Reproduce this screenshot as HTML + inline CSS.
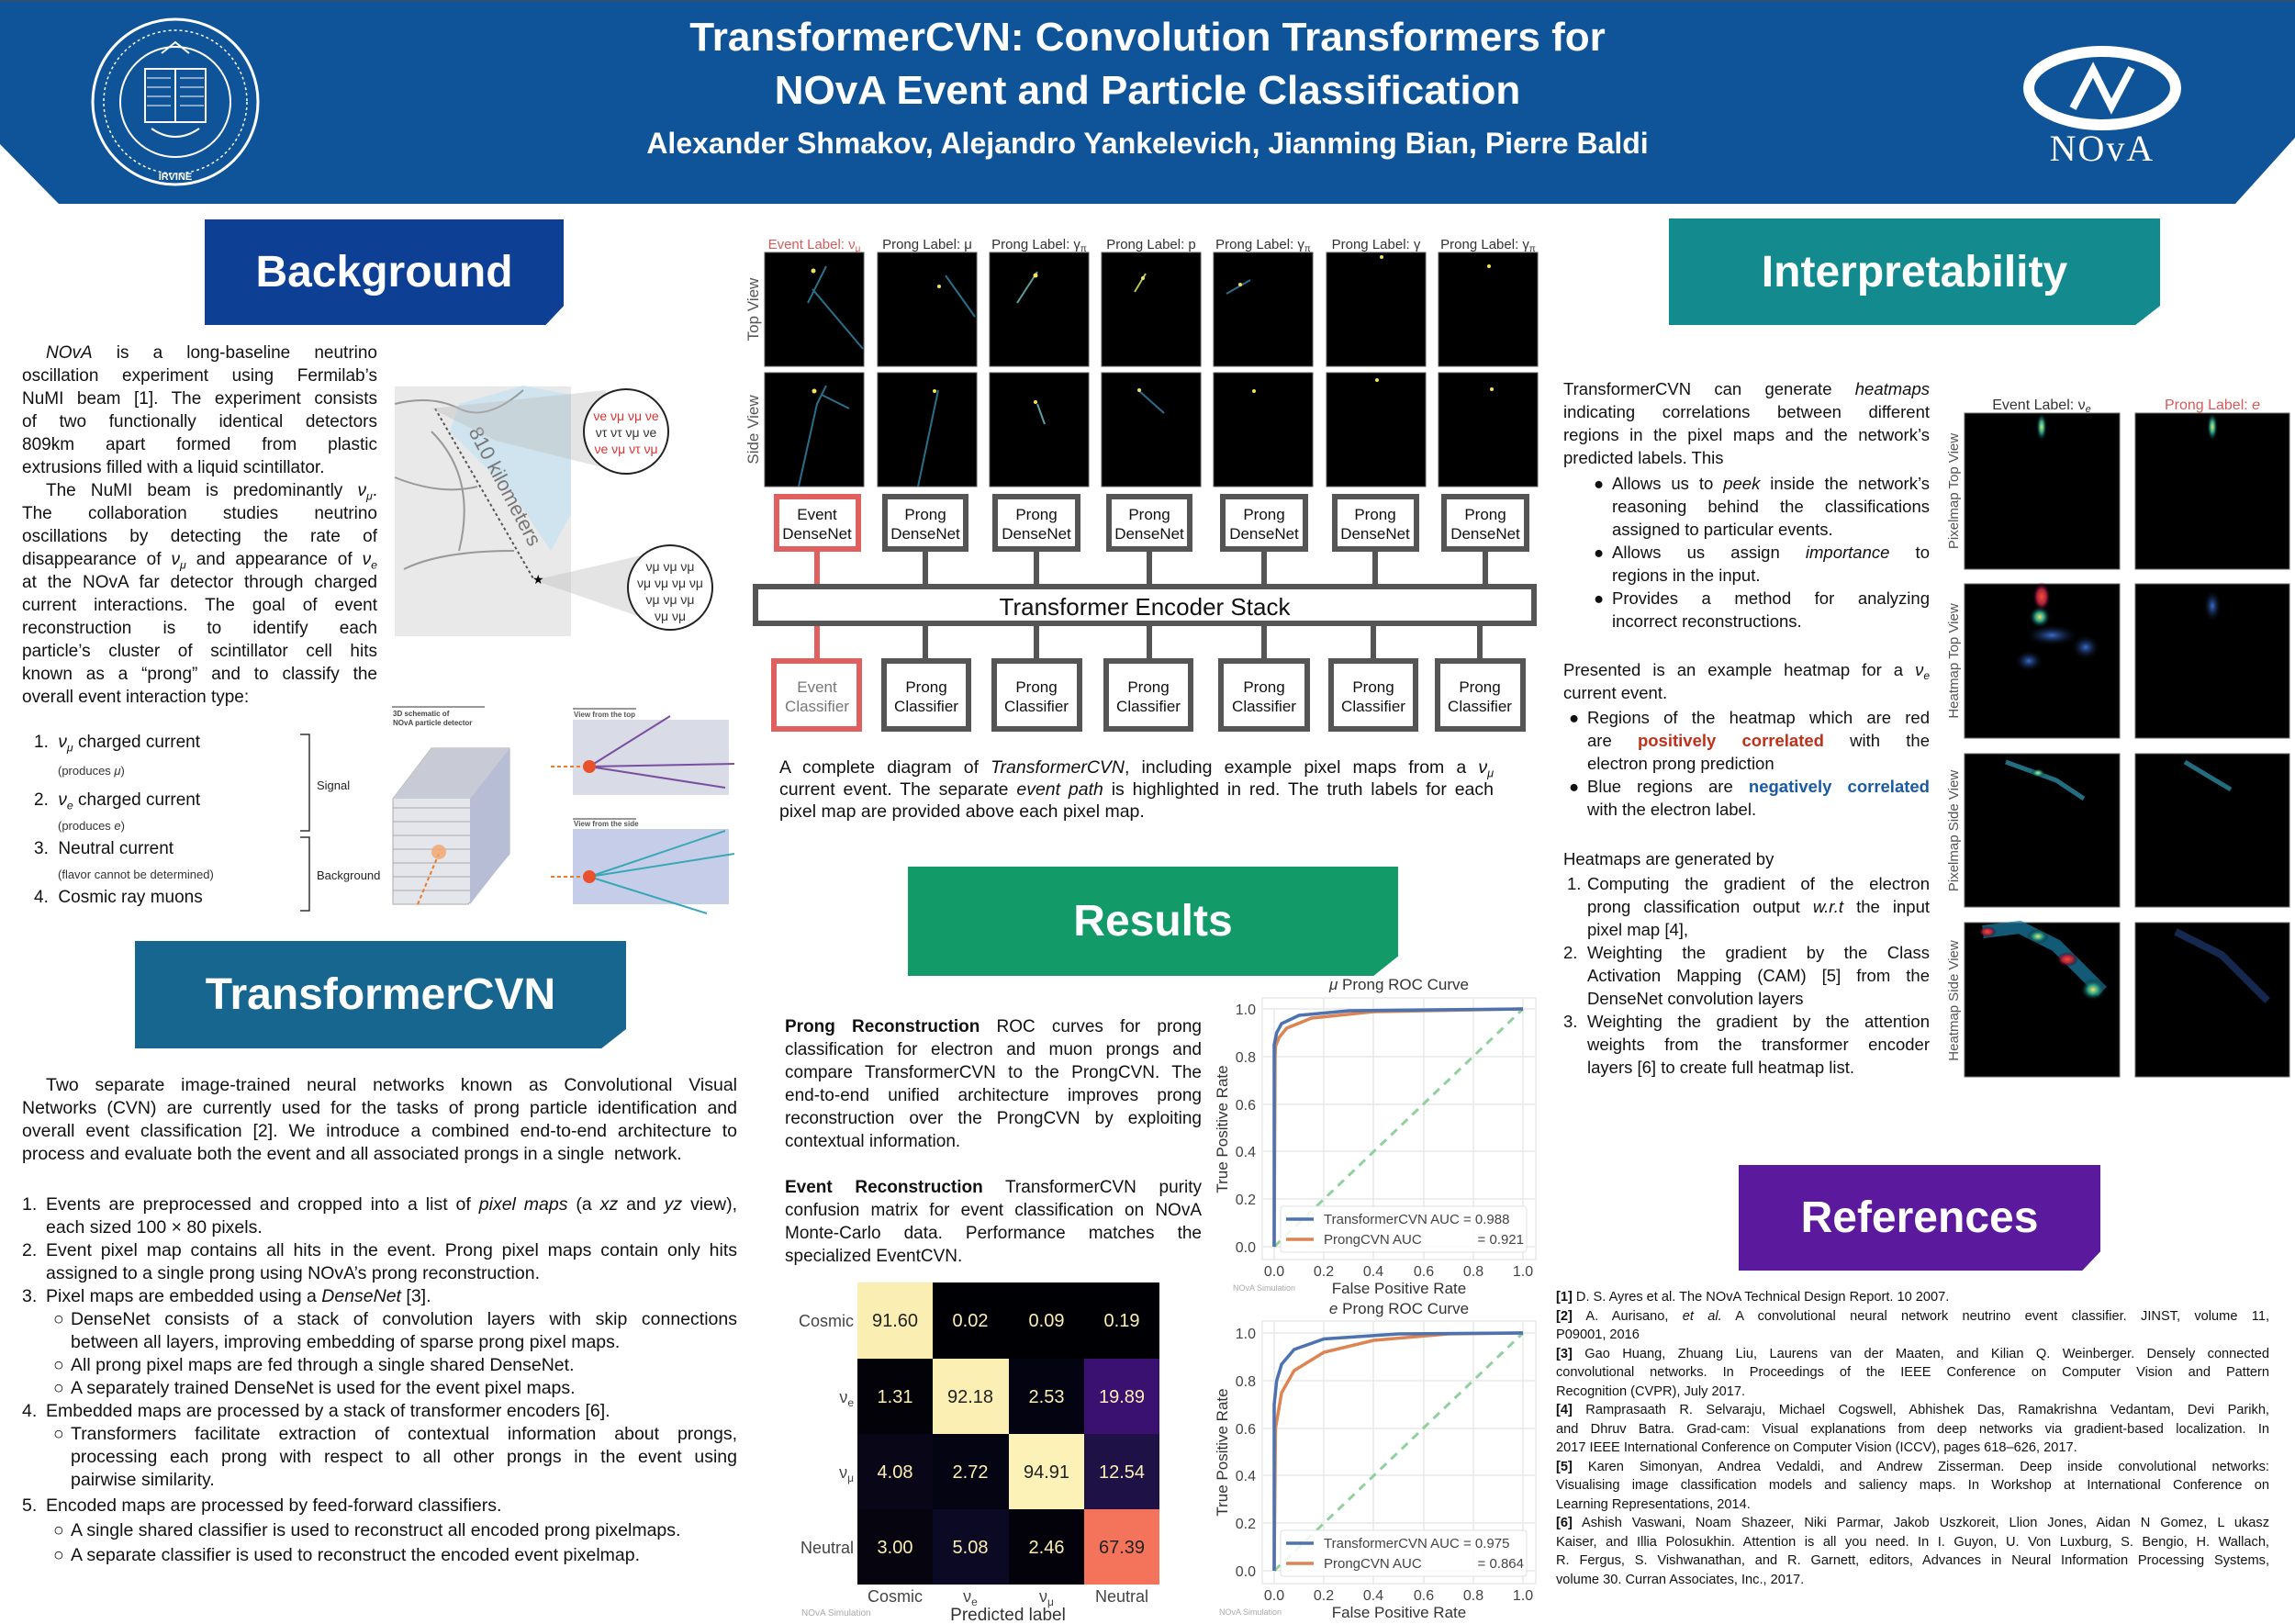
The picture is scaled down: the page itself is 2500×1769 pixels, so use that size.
<!DOCTYPE html>
<html><head><meta charset="utf-8">
<style>
*{margin:0;padding:0;box-sizing:border-box}
body{width:2500px;height:1769px;background:#fff;position:relative;overflow:hidden;font-family:"Liberation Sans","DejaVu Sans",sans-serif;color:#111}
.a{position:absolute}
.hdr{position:absolute;color:#fff;font-weight:bold;font-size:48px;display:flex;align-items:center;justify-content:center;clip-path:polygon(0 0,100% 0,100% 82%,95% 100%,0 100%)}
.blk{position:absolute;line-height:25px}
.blk div{text-align:justify;text-align-last:justify;white-space:nowrap;height:25px}
.blk div.l{text-align-last:left}
sub{font-size:0.65em;vertical-align:-0.35em;line-height:0}
i{font-style:italic}
</style></head><body>

<svg class="a" style="left:0;top:0" width="2500" height="1769" viewBox="0 0 2500 1769" font-family="Liberation Sans, DejaVu Sans, sans-serif">
<polygon points="0,0 2500,0 2500,150 2435,222 64,222 0,157" fill="#0f5499"/>
<line x1="0" y1="1" x2="2500" y2="1" stroke="#2d4f73" stroke-width="2"/>
<circle cx="191" cy="111" r="90" fill="#0f5499" stroke="#fff" stroke-width="3"/>
<circle cx="191" cy="111" r="78" fill="none" stroke="#fff" stroke-width="1.5" stroke-dasharray="3 3"/>
<circle cx="191" cy="111" r="60" fill="none" stroke="#fff" stroke-width="2"/>
<rect x="158" y="75" width="66" height="58" fill="none" stroke="#fff" stroke-width="2"/>
<line x1="191" y1="75" x2="191" y2="133" stroke="#fff" stroke-width="2"/>
<path d="M160 85h26M160 95h26M160 105h26M160 115h26M196 85h26M196 95h26M196 105h26M196 115h26" stroke="#fff" stroke-width="1"/>
<path d="M176 58l15 -12l15 12" fill="none" stroke="#fff" stroke-width="2"/>
<path d="M165 140q26 18 52 0" fill="none" stroke="#fff" stroke-width="2"/>
<text x="191" y="196" fill="#fff" font-size="11" text-anchor="middle" font-weight="bold">IRVINE</text>
<ellipse cx="2290" cy="96" rx="80" ry="40" fill="none" stroke="#fff" stroke-width="12"/>
<path d="M2258 118 L2280 76 L2300 116 L2322 74" fill="none" stroke="#fff" stroke-width="8"/>
<text x="2290" y="175" fill="#fff" font-size="40" text-anchor="middle" font-family="Liberation Serif, serif" letter-spacing="2">NOvA</text>

<rect x="430" y="421" width="192" height="272" fill="#e9e9ea"/>
<polygon points="500,440 570,420 622,430 622,560 600,600 560,540 520,500 490,470" fill="#cfe4ee"/>
<path d="M430 440 Q470 430 500 445 T570 425 M470 470 Q520 520 500 600 M430 520 Q480 540 520 530 M440 620 Q480 600 560 600" stroke="#999" fill="none" stroke-width="2"/>
<line x1="474" y1="445" x2="582" y2="632" stroke="#555" stroke-width="2" stroke-dasharray="3 3"/>
<text x="510" y="470" font-size="22" fill="#777" transform="rotate(62 510 470)">810 kilometers</text>
<polygon points="470,445 660,425 660,510 540,480" fill="#bbb" opacity="0.4"/>
<polygon points="582,632 720,600 720,680" fill="#bbb" opacity="0.4"/>
<circle cx="682" cy="470" r="46" fill="#fff" stroke="#222" stroke-width="2"/>
<text x="682" y="458" font-size="14" fill="#d33" text-anchor="middle">νe νμ νμ νe</text>
<text x="682" y="476" font-size="14" fill="#333" text-anchor="middle">ντ ντ νμ νe</text>
<text x="682" y="494" font-size="14" fill="#d33" text-anchor="middle">νe νμ ντ νμ</text>
<circle cx="730" cy="640" r="46" fill="#fff" stroke="#222" stroke-width="2"/>
<text x="730" y="622" font-size="14" fill="#333" text-anchor="middle">νμ νμ νμ</text>
<text x="730" y="640" font-size="14" fill="#333" text-anchor="middle">νμ νμ νμ νμ</text>
<text x="730" y="658" font-size="14" fill="#333" text-anchor="middle">νμ νμ νμ</text>
<text x="730" y="676" font-size="14" fill="#333" text-anchor="middle">νμ νμ</text>
<text x="580" y="636" font-size="14">★</text>

<line x1="427" y1="770" x2="528" y2="770" stroke="#999" stroke-width="2"/>
<text x="428" y="780" font-size="8" font-weight="bold" fill="#444">3D schematic of</text>
<text x="428" y="790" font-size="8" font-weight="bold" fill="#444">NOvA particle detector</text>
<polygon points="428,870 470,815 555,815 555,930 510,985 428,985" fill="#e4e6ec" stroke="#aaa"/>
<polygon points="428,870 470,815 555,815 512,870" fill="#c8cbd6"/>
<polygon points="512,870 555,815 555,930 512,985" fill="#b7bdd4"/>
<path d="M428 880h84M428 895h84M428 910h84M428 925h84M428 940h84M428 955h84M428 970h84" stroke="#aaa" stroke-width="1"/>
<line x1="455" y1="985" x2="478" y2="930" stroke="#e87c2c" stroke-width="2" stroke-dasharray="4 3"/>
<circle cx="478" cy="928" r="8" fill="#f3a46a" opacity="0.8"/>
<rect x="624" y="784" width="170" height="82" fill="#d9dbe6"/>
<rect x="624" y="903" width="170" height="82" fill="#c5cde8"/>
<line x1="624" y1="772" x2="693" y2="772" stroke="#999" stroke-width="2"/>
<line x1="624" y1="892" x2="693" y2="892" stroke="#999" stroke-width="2"/>
<text x="625" y="781" font-size="8" font-weight="bold" fill="#555">View from the top</text>
<text x="625" y="900" font-size="8" font-weight="bold" fill="#555">View from the side</text>
<path d="M600 835h42" stroke="#e87c2c" stroke-width="2" stroke-dasharray="4 3"/>
<path d="M642 835 L730 780 M642 835 L800 832 M642 835 L790 858" stroke-width="2" fill="none" stroke="#7b4fa0"/>
<path d="M600 955h42" stroke="#e87c2c" stroke-width="2" stroke-dasharray="4 3"/>
<path d="M642 955 L790 905 M642 955 L800 930 M642 955 L770 995" stroke-width="2" fill="none" stroke="#3aa7b8"/>
<circle cx="642" cy="835" r="7" fill="#e8512c"/>
<circle cx="642" cy="955" r="7" fill="#e8512c"/>
<path d="M327 800h10v105h-10 M327 912h10v80h-10" fill="none" stroke="#333" stroke-width="1.5"/>
<text x="345" y="860" font-size="13" fill="#222">Signal</text>
<text x="345" y="958" font-size="13" fill="#222">Background</text>

<g font-size="15" fill="#333" text-anchor="middle">
<text x="887" y="271" fill="#d65a5a">Event Label: ν<tspan font-size="10" dy="3">μ</tspan></text>
<text x="1010" y="271">Prong Label: μ</text>
<text x="1132" y="271">Prong Label: γ<tspan font-size="10" dy="3">π</tspan></text>
<text x="1254" y="271">Prong Label: p</text>
<text x="1376" y="271">Prong Label: γ<tspan font-size="10" dy="3">π</tspan></text>
<text x="1499" y="271">Prong Label: γ</text>
<text x="1621" y="271">Prong Label: γ<tspan font-size="10" dy="3">π</tspan></text>
</g>
<g fill="#000" stroke="#555" stroke-width="1">
<rect x="833" y="275" width="108" height="124"/><rect x="956" y="275" width="108" height="124"/><rect x="1078" y="275" width="108" height="124"/><rect x="1200" y="275" width="108" height="124"/><rect x="1322" y="275" width="108" height="124"/><rect x="1445" y="275" width="108" height="124"/><rect x="1567" y="275" width="108" height="124"/>
<rect x="833" y="406" width="108" height="124"/><rect x="956" y="406" width="108" height="124"/><rect x="1078" y="406" width="108" height="124"/><rect x="1200" y="406" width="108" height="124"/><rect x="1322" y="406" width="108" height="124"/><rect x="1445" y="406" width="108" height="124"/><rect x="1567" y="406" width="108" height="124"/>
</g>
<g stroke-width="2" fill="none">
<path d="M900 290 L880 330 M885 315 L940 380" stroke="#2a6f8a"/>
<path d="M1030 300 L1062 345" stroke="#2a6f8a"/>
<path d="M1130 296 L1108 330" stroke="#58a0a0"/>
<path d="M1248 298 L1236 318" stroke="#b5c44a"/>
<path d="M1362 305 L1336 320" stroke="#2a6f8a"/>
<path d="M900 420 L890 440 L870 530 M895 430 L925 445" stroke="#2a6f8a"/>
<path d="M1022 425 L1000 530" stroke="#2a6f8a"/>
<path d="M1130 440 L1138 462" stroke="#58a0a0"/>
<path d="M1240 425 L1268 450" stroke="#2a6f8a"/>
</g>
<g fill="#f2e25a">
<circle cx="886" cy="295" r="2.5"/><circle cx="1023" cy="312" r="2"/><circle cx="1128" cy="300" r="2.5"/><circle cx="1245" cy="303" r="2"/><circle cx="1351" cy="310" r="2"/><circle cx="1505" cy="280" r="2"/><circle cx="1622" cy="290" r="2"/>
<circle cx="887" cy="426" r="2.5"/><circle cx="1018" cy="426" r="2"/><circle cx="1128" cy="438" r="2"/><circle cx="1241" cy="425" r="2"/><circle cx="1366" cy="426" r="2"/><circle cx="1500" cy="414" r="2"/><circle cx="1625" cy="424" r="2"/>
</g>
<text transform="translate(826 337) rotate(-90)" font-size="17" fill="#555" text-anchor="middle">Top View</text>
<text transform="translate(826 468) rotate(-90)" font-size="17" fill="#555" text-anchor="middle">Side View</text>

<g stroke="#555" stroke-width="6">
<line x1="1008" y1="601" x2="1008" y2="636"/><line x1="1129" y1="601" x2="1129" y2="636"/><line x1="1252" y1="601" x2="1252" y2="636"/><line x1="1377" y1="601" x2="1377" y2="636"/><line x1="1498" y1="601" x2="1498" y2="636"/><line x1="1618" y1="601" x2="1618" y2="636"/>
<line x1="1008" y1="681" x2="1008" y2="717"/><line x1="1129" y1="681" x2="1129" y2="717"/><line x1="1252" y1="681" x2="1252" y2="717"/><line x1="1377" y1="681" x2="1377" y2="717"/><line x1="1496" y1="681" x2="1496" y2="717"/><line x1="1612" y1="681" x2="1612" y2="717"/>
</g>
<g stroke="#e06060" stroke-width="6"><line x1="890" y1="601" x2="890" y2="640"/><line x1="890" y1="680" x2="890" y2="717"/></g>
<rect x="823" y="639" width="848" height="40" fill="#fff" stroke="#555" stroke-width="6"/>
<text x="1247" y="670" font-size="26" text-anchor="middle" fill="#111">Transformer Encoder Stack</text>
<g fill="#fff" stroke="#555" stroke-width="6">
<rect x="964" y="541" width="88" height="57"/><rect x="1084" y="541" width="90" height="57"/><rect x="1208" y="541" width="88" height="57"/><rect x="1332" y="541" width="90" height="57"/><rect x="1454" y="541" width="89" height="57"/><rect x="1573" y="541" width="90" height="57"/>
<rect x="963" y="720" width="92" height="74"/><rect x="1083" y="720" width="93" height="74"/><rect x="1205" y="720" width="92" height="74"/><rect x="1330" y="720" width="94" height="74"/><rect x="1450" y="720" width="92" height="74"/><rect x="1566" y="720" width="93" height="74"/>
</g>
<rect x="846" y="541" width="89" height="57" fill="#fff" stroke="#e06060" stroke-width="6"/>
<rect x="843" y="720" width="93" height="74" fill="#fff" stroke="#e06060" stroke-width="6"/>
<g font-size="17" text-anchor="middle" fill="#111">
<text x="890" y="566">Event</text><text x="890" y="587">DenseNet</text>
<text x="1008" y="566">Prong</text><text x="1008" y="587">DenseNet</text>
<text x="1129" y="566">Prong</text><text x="1129" y="587">DenseNet</text>
<text x="1252" y="566">Prong</text><text x="1252" y="587">DenseNet</text>
<text x="1377" y="566">Prong</text><text x="1377" y="587">DenseNet</text>
<text x="1498" y="566">Prong</text><text x="1498" y="587">DenseNet</text>
<text x="1618" y="566">Prong</text><text x="1618" y="587">DenseNet</text>
<text x="890" y="754" fill="#777">Event</text><text x="890" y="775" fill="#777">Classifier</text>
<text x="1009" y="754">Prong</text><text x="1009" y="775">Classifier</text>
<text x="1129" y="754">Prong</text><text x="1129" y="775">Classifier</text>
<text x="1251" y="754">Prong</text><text x="1251" y="775">Classifier</text>
<text x="1377" y="754">Prong</text><text x="1377" y="775">Classifier</text>
<text x="1496" y="754">Prong</text><text x="1496" y="775">Classifier</text>
<text x="1612" y="754">Prong</text><text x="1612" y="775">Classifier</text>
</g>

<g>
<rect x="934" y="1397" width="82" height="83" fill="#fbeeb3"/><rect x="1016" y="1397" width="83" height="83" fill="#000004"/><rect x="1099" y="1397" width="82" height="83" fill="#000004"/><rect x="1181" y="1397" width="82" height="83" fill="#000004"/>
<rect x="934" y="1480" width="82" height="82" fill="#030209"/><rect x="1016" y="1480" width="83" height="82" fill="#fcefb4"/><rect x="1099" y="1480" width="82" height="82" fill="#040311"/><rect x="1181" y="1480" width="82" height="82" fill="#3a1070"/>
<rect x="934" y="1562" width="82" height="82" fill="#080617"/><rect x="1016" y="1562" width="83" height="82" fill="#050412"/><rect x="1099" y="1562" width="82" height="82" fill="#fcf2b8"/><rect x="1181" y="1562" width="82" height="82" fill="#1d1146"/>
<rect x="934" y="1644" width="82" height="82" fill="#05040f"/><rect x="1016" y="1644" width="83" height="82" fill="#0b0924"/><rect x="1099" y="1644" width="82" height="82" fill="#03020b"/><rect x="1181" y="1644" width="82" height="82" fill="#f4745b"/>
</g>
<g font-size="20" text-anchor="middle" fill="#fcefb4">
<text x="975" y="1445" fill="#222">91.60</text><text x="1057" y="1445">0.02</text><text x="1140" y="1445">0.09</text><text x="1222" y="1445">0.19</text>
<text x="975" y="1528">1.31</text><text x="1057" y="1528" fill="#222">92.18</text><text x="1140" y="1528">2.53</text><text x="1222" y="1528">19.89</text>
<text x="975" y="1610">4.08</text><text x="1057" y="1610">2.72</text><text x="1140" y="1610" fill="#222">94.91</text><text x="1222" y="1610">12.54</text>
<text x="975" y="1692">3.00</text><text x="1057" y="1692">5.08</text><text x="1140" y="1692">2.46</text><text x="1222" y="1692" fill="#222">67.39</text>
</g>
<g font-size="18" fill="#444">
<text x="930" y="1445" text-anchor="end">Cosmic</text>
<text x="930" y="1528" text-anchor="end">ν<tspan font-size="12" dy="4">e</tspan></text>
<text x="930" y="1610" text-anchor="end">ν<tspan font-size="12" dy="4">μ</tspan></text>
<text x="930" y="1692" text-anchor="end">Neutral</text>
<text x="975" y="1745" text-anchor="middle">Cosmic</text>
<text x="1057" y="1745" text-anchor="middle">ν<tspan font-size="12" dy="4">e</tspan></text>
<text x="1140" y="1745" text-anchor="middle">ν<tspan font-size="12" dy="4">μ</tspan></text>
<text x="1222" y="1745" text-anchor="middle">Neutral</text>
<text x="1098" y="1765" text-anchor="middle" font-size="19" fill="#333">Predicted label</text>
<text x="873" y="1760" font-size="10" fill="#aaa">NOvA Simulation</text>
</g>

<g>
<rect x="1375" y="1087" width="298" height="285" fill="#fff" stroke="#ddd"/>
<g stroke="#e8e8e8" stroke-width="1.5">
<line x1="1388" y1="1099" x2="1388" y2="1372"/><line x1="1442" y1="1087" x2="1442" y2="1372"/><line x1="1496" y1="1087" x2="1496" y2="1372"/><line x1="1551" y1="1087" x2="1551" y2="1372"/><line x1="1605" y1="1087" x2="1605" y2="1372"/><line x1="1659" y1="1087" x2="1659" y2="1372"/>
<line x1="1375" y1="1099" x2="1673" y2="1099"/><line x1="1375" y1="1151" x2="1673" y2="1151"/><line x1="1375" y1="1203" x2="1673" y2="1203"/><line x1="1375" y1="1254" x2="1673" y2="1254"/><line x1="1375" y1="1306" x2="1673" y2="1306"/><line x1="1375" y1="1358" x2="1673" y2="1358"/>
</g>
<line x1="1388" y1="1358" x2="1659" y2="1099" stroke="#8fd19e" stroke-width="3" stroke-dasharray="9 7"/>
<polyline points="1388,1358 1389,1151 1389.4,1140 1393.4,1130 1401.6,1120 1428.7,1109 1496.4,1102 1659,1099" fill="none" stroke="#dd8452" stroke-width="3.5"/>
<polyline points="1388,1358 1388,1138 1390.7,1125 1396.1,1115 1415.1,1106 1469.3,1101 1659,1099" fill="none" stroke="#4c72b0" stroke-width="3.5"/>
<rect x="1395" y="1314" width="268" height="50" fill="#fff" opacity="0.85" stroke="#ddd" rx="3"/>
<line x1="1401" y1="1328" x2="1431" y2="1328" stroke="#4c72b0" stroke-width="3.5"/>
<line x1="1401" y1="1350" x2="1431" y2="1350" stroke="#dd8452" stroke-width="3.5"/>
<g font-size="15" fill="#444"><text x="1442" y="1333">TransformerCVN AUC = 0.988</text><text x="1442" y="1355">ProngCVN AUC</text><text x="1660" y="1355" text-anchor="end">= 0.921</text></g>
<g font-size="16" fill="#444" text-anchor="end"><text x="1368" y="1105">1.0</text><text x="1368" y="1157">0.8</text><text x="1368" y="1209">0.6</text><text x="1368" y="1260">0.4</text><text x="1368" y="1312">0.2</text><text x="1368" y="1364">0.0</text></g>
<g font-size="16" fill="#444" text-anchor="middle"><text x="1388" y="1390">0.0</text><text x="1442" y="1390">0.2</text><text x="1496" y="1390">0.4</text><text x="1551" y="1390">0.6</text><text x="1605" y="1390">0.8</text><text x="1659" y="1390">1.0</text></g>
<text x="1524" y="1409" font-size="17" fill="#333" text-anchor="middle">False Positive Rate</text>
<text x="1343" y="1406" font-size="9" fill="#aaa">NOvA Simulation</text>
<text transform="translate(1337 1230) rotate(-90)" font-size="17" fill="#333" text-anchor="middle">True Positive Rate</text>
<text x="1524" y="1078" font-size="17" fill="#333" text-anchor="middle"><tspan font-style="italic">μ</tspan> Prong ROC Curve</text>
</g>
<g>
<rect x="1375" y="1439" width="298" height="286" fill="#fff" stroke="#ddd"/>
<g stroke="#e8e8e8" stroke-width="1.5">
<line x1="1388" y1="1439" x2="1388" y2="1725"/><line x1="1442" y1="1439" x2="1442" y2="1725"/><line x1="1496" y1="1439" x2="1496" y2="1725"/><line x1="1551" y1="1439" x2="1551" y2="1725"/><line x1="1605" y1="1439" x2="1605" y2="1725"/><line x1="1659" y1="1439" x2="1659" y2="1725"/>
<line x1="1375" y1="1452" x2="1673" y2="1452"/><line x1="1375" y1="1504" x2="1673" y2="1504"/><line x1="1375" y1="1556" x2="1673" y2="1556"/><line x1="1375" y1="1607" x2="1673" y2="1607"/><line x1="1375" y1="1659" x2="1673" y2="1659"/><line x1="1375" y1="1711" x2="1673" y2="1711"/>
</g>
<line x1="1388" y1="1711" x2="1659" y2="1452" stroke="#8fd19e" stroke-width="3" stroke-dasharray="9 7"/>
<polyline points="1388,1711 1389.4,1556 1396.1,1517 1409.7,1493 1442.2,1473 1496.4,1460 1577.7,1453 1659,1452" fill="none" stroke="#dd8452" stroke-width="3.5"/>
<polyline points="1388,1711 1388,1530 1390.7,1504 1396.1,1486 1409.7,1470 1442.2,1458.5 1523.5,1453 1659,1452" fill="none" stroke="#4c72b0" stroke-width="3.5"/>
<rect x="1395" y="1667" width="268" height="50" fill="#fff" opacity="0.85" stroke="#ddd" rx="3"/>
<line x1="1401" y1="1681" x2="1431" y2="1681" stroke="#4c72b0" stroke-width="3.5"/>
<line x1="1401" y1="1703" x2="1431" y2="1703" stroke="#dd8452" stroke-width="3.5"/>
<g font-size="15" fill="#444"><text x="1442" y="1686">TransformerCVN AUC = 0.975</text><text x="1442" y="1708">ProngCVN AUC</text><text x="1660" y="1708" text-anchor="end">= 0.864</text></g>
<g font-size="16" fill="#444" text-anchor="end"><text x="1368" y="1458">1.0</text><text x="1368" y="1510">0.8</text><text x="1368" y="1562">0.6</text><text x="1368" y="1613">0.4</text><text x="1368" y="1665">0.2</text><text x="1368" y="1717">0.0</text></g>
<g font-size="16" fill="#444" text-anchor="middle"><text x="1388" y="1743">0.0</text><text x="1442" y="1743">0.2</text><text x="1496" y="1743">0.4</text><text x="1551" y="1743">0.6</text><text x="1605" y="1743">0.8</text><text x="1659" y="1743">1.0</text></g>
<text x="1524" y="1762" font-size="17" fill="#333" text-anchor="middle">False Positive Rate</text>
<text x="1328" y="1759" font-size="9" fill="#aaa">NOvA Simulation</text>
<text transform="translate(1337 1582) rotate(-90)" font-size="17" fill="#333" text-anchor="middle">True Positive Rate</text>
<text x="1524" y="1431" font-size="17" fill="#333" text-anchor="middle"><tspan font-style="italic">e</tspan> Prong ROC Curve</text>
</g>

<defs>
<radialGradient id="gy"><stop offset="0" stop-color="#f5e35a"/><stop offset="0.4" stop-color="#2aa38f"/><stop offset="1" stop-color="#000" stop-opacity="0"/></radialGradient>
<radialGradient id="gb"><stop offset="0" stop-color="#3a6ed0"/><stop offset="1" stop-color="#000" stop-opacity="0"/></radialGradient>
<radialGradient id="gr"><stop offset="0" stop-color="#f0502a"/><stop offset="0.5" stop-color="#b02040"/><stop offset="1" stop-color="#000" stop-opacity="0"/></radialGradient>
</defs>
<g fill="#000" stroke="#666" stroke-width="1">
<rect x="2140" y="450" width="169" height="170"/><rect x="2326" y="450" width="168" height="170"/>
<rect x="2140" y="636" width="169" height="168"/><rect x="2326" y="636" width="168" height="168"/>
<rect x="2140" y="821" width="169" height="167"/><rect x="2326" y="821" width="168" height="167"/>
<rect x="2140" y="1005" width="169" height="168"/><rect x="2326" y="1005" width="168" height="168"/>
</g>
<ellipse cx="2224" cy="465" rx="6" ry="16" fill="url(#gy)"/>
<ellipse cx="2410" cy="465" rx="6" ry="16" fill="url(#gy)"/>
<ellipse cx="2224" cy="650" rx="10" ry="16" fill="url(#gr)"/>
<ellipse cx="2222" cy="672" rx="12" ry="12" fill="url(#gy)"/>
<ellipse cx="2235" cy="692" rx="30" ry="12" fill="url(#gb)"/>
<ellipse cx="2210" cy="720" rx="16" ry="12" fill="url(#gb)"/>
<ellipse cx="2272" cy="705" rx="16" ry="14" fill="url(#gb)"/>
<ellipse cx="2410" cy="660" rx="10" ry="18" fill="url(#gb)"/>
<path d="M2185 830 L2240 850 L2270 870" stroke="#2a8aa0" stroke-width="5" fill="none" opacity="0.8"/>
<ellipse cx="2220" cy="842" rx="8" ry="5" fill="url(#gy)"/>
<path d="M2380 830 L2430 860" stroke="#2a8aa0" stroke-width="5" fill="none" opacity="0.8"/>
<path d="M2160 1015 L2200 1010 L2240 1030 L2270 1060 L2290 1080" stroke="#1a80a8" stroke-width="14" fill="none" opacity="0.7"/>
<ellipse cx="2165" cy="1015" rx="10" ry="6" fill="url(#gr)"/>
<ellipse cx="2220" cy="1020" rx="12" ry="8" fill="url(#gy)"/>
<ellipse cx="2252" cy="1045" rx="12" ry="8" fill="url(#gr)"/>
<ellipse cx="2280" cy="1078" rx="14" ry="12" fill="url(#gy)"/>
<path d="M2370 1015 L2420 1040 L2470 1090" stroke="#2a50a0" stroke-width="8" fill="none" opacity="0.5"/>
<g font-size="16" fill="#333" text-anchor="middle">
<text x="2224" y="446">Event Label: ν<tspan font-size="11" dy="3" font-style="italic">e</tspan></text>
<text x="2410" y="446" fill="#d65a5a">Prong Label: <tspan font-style="italic">e</tspan></text>
</g>
<g font-size="15" fill="#555" text-anchor="middle">
<text transform="translate(2133 535) rotate(-90)">Pixelmap Top View</text>
<text transform="translate(2133 720) rotate(-90)">Heatmap Top View</text>
<text transform="translate(2133 905) rotate(-90)">Pixelmap Side View</text>
<text transform="translate(2133 1090) rotate(-90)">Heatmap Side View</text>
</g>
</svg>

<div class="a" style="left:0;width:2500px;top:12px;text-align:center;color:#fff;font-weight:bold;font-size:44px;line-height:58px">TransformerCVN: Convolution Transformers for<br>NOvA Event and Particle Classification</div>
<div class="a" style="left:0;width:2500px;top:136px;text-align:center;color:#fff;font-weight:bold;font-size:32px;line-height:40px">Alexander Shmakov, Alejandro Yankelevich, Jianming Bian, Pierre Baldi</div>

<div class="hdr" style="left:223px;top:239px;width:391px;height:115px;background:#0d3f94">Background</div>
<div class="hdr" style="left:147px;top:1025px;width:535px;height:117px;background:#16668f">TransformerCVN</div>
<div class="hdr" style="left:989px;top:944px;width:534px;height:119px;background:#129a68">Results</div>
<div class="hdr" style="left:1818px;top:238px;width:535px;height:116px;background:#138a8e">Interpretability</div>
<div class="hdr" style="left:1894px;top:1269px;width:394px;height:115px;background:#5b1a9e">References</div>

<div class="blk" style="left:24px;top:372px;width:387px;font-size:19px">
<div style="padding-left:26px"><i>NOvA</i> is a long-baseline neutrino</div>
<div>oscillation experiment using Fermilab’s</div>
<div>NuMI beam [1]. The experiment consists</div>
<div>of two functionally identical detectors</div>
<div>809km apart formed from plastic</div>
<div class="l">extrusions filled with a liquid scintillator.</div>
<div style="padding-left:26px">The NuMI beam is predominantly <i>ν<sub>μ</sub></i>.</div>
<div>The collaboration studies neutrino</div>
<div>oscillations by detecting the rate of</div>
<div>disappearance of <i>ν<sub>μ</sub></i> and appearance of <i>ν<sub>e</sub></i></div>
<div>at the NOvA far detector through charged</div>
<div>current interactions. The goal of event</div>
<div>reconstruction is to identify each</div>
<div>particle’s cluster of scintillator cell hits</div>
<div>known as a “prong” and to classify the</div>
<div class="l">overall event interaction type:</div>
</div>
<div class="a" style="left:37px;top:797px;font-size:19px;line-height:24px">1.&nbsp; <i>ν<sub>μ</sub></i> charged current</div>
<div class="a" style="left:63px;top:832px;font-size:13px;color:#333">(produces <i>μ</i>)</div>
<div class="a" style="left:37px;top:860px;font-size:19px;line-height:24px">2.&nbsp; <i>ν<sub>e</sub></i> charged current</div>
<div class="a" style="left:63px;top:892px;font-size:13px;color:#333">(produces <i>e</i>)</div>
<div class="a" style="left:37px;top:913px;font-size:19px;line-height:24px">3.&nbsp; Neutral current</div>
<div class="a" style="left:63px;top:945px;font-size:13px;color:#333">(flavor cannot be determined)</div>
<div class="a" style="left:37px;top:966px;font-size:19px;line-height:24px">4.&nbsp; Cosmic ray muons</div>

<div class="blk" style="left:24px;top:1170px;width:779px;font-size:19.5px">
<div style="padding-left:26px">Two separate image-trained neural networks known as Convolutional Visual</div>
<div>Networks (CVN) are currently used for the tasks of prong particle identification and</div>
<div>overall event classification [2]. We introduce a combined end-to-end architecture to</div>
<div class="l">process and evaluate both the event and all associated prongs in a single&nbsp; network.</div>
</div>
<div class="blk" style="left:24px;top:1300px;width:779px;font-size:19.5px">
<div><span style="display:inline-block;width:26px;text-align:left">1.</span>Events are preprocessed and cropped into a list of <i>pixel maps</i> (a <i>xz</i> and <i>yz</i> view),</div>
<div class="l" style="padding-left:26px">each sized 100 × 80 pixels.</div>
<div><span style="display:inline-block;width:26px">2.</span>Event pixel map contains all hits in the event. Prong pixel maps contain only hits</div>
<div class="l" style="padding-left:26px">assigned to a single prong using NOvA’s prong reconstruction.</div>
<div class="l"><span style="display:inline-block;width:26px">3.</span>Pixel maps are embedded using a <i>DenseNet</i> [3].</div>
<div style="padding-left:34px"><span style="display:inline-block;width:19px">○</span>DenseNet consists of a stack of convolution layers with skip connections</div>
<div class="l" style="padding-left:53px">between all layers, improving embedding of sparse prong pixel maps.</div>
<div class="l" style="padding-left:34px"><span style="display:inline-block;width:19px">○</span>All prong pixel maps are fed through a single shared DenseNet.</div>
<div class="l" style="padding-left:34px"><span style="display:inline-block;width:19px">○</span>A separately trained DenseNet is used for the event pixel maps.</div>
<div class="l"><span style="display:inline-block;width:26px">4.</span>Embedded maps are processed by a stack of transformer encoders [6].</div>
<div style="padding-left:34px"><span style="display:inline-block;width:19px">○</span>Transformers facilitate extraction of contextual information about prongs,</div>
<div style="padding-left:53px">processing each prong with respect to all other prongs in the event using</div>
<div class="l" style="padding-left:53px">pairwise similarity.</div>
<div class="l" style="margin-top:3px"><span style="display:inline-block;width:26px">5.</span>Encoded maps are processed by feed-forward classifiers.</div>
<div class="l" style="margin-top:2px;padding-left:34px"><span style="display:inline-block;width:19px">○</span>A single shared classifier is used to reconstruct all encoded prong pixelmaps.</div>
<div class="l" style="margin-top:2px;padding-left:34px"><span style="display:inline-block;width:19px">○</span>A separate classifier is used to reconstruct the encoded event pixelmap.</div>
</div>

<div class="blk" style="left:849px;top:824px;width:778px;font-size:19.5px;line-height:24px">
<div style="height:24px">A complete diagram of <i>TransformerCVN</i>, including example pixel maps from a <i>ν<sub>μ</sub></i></div>
<div style="height:24px">current event. The separate <i>event path</i> is highlighted in red. The truth labels for each</div>
<div class="l" style="height:24px">pixel map are provided above each pixel map.</div>
</div>

<div class="blk" style="left:855px;top:1106px;width:454px;font-size:19px">
<div><b>Prong Reconstruction</b> ROC curves for prong</div>
<div>classification for electron and muon prongs and</div>
<div>compare TransformerCVN to the ProngCVN. The</div>
<div>end-to-end unified architecture improves prong</div>
<div>reconstruction over the ProngCVN by exploiting</div>
<div class="l">contextual information.</div>
</div>
<div class="blk" style="left:855px;top:1281px;width:454px;font-size:19px">
<div><b>Event Reconstruction</b> TransformerCVN purity</div>
<div>confusion matrix for event classification on NOvA</div>
<div>Monte-Carlo data. Performance matches the</div>
<div class="l">specialized EventCVN.</div>
</div>

<div class="blk" style="left:1703px;top:411px;width:399px;font-size:18.5px">
<div>TransformerCVN can generate <i>heatmaps</i></div>
<div>indicating correlations between different</div>
<div>regions in the pixel maps and the network’s</div>
<div class="l">predicted labels. This</div>
<div style="margin-top:3px;padding-left:33px"><span style="display:inline-block;width:20px">●</span>Allows us to <i>peek</i> inside the network’s</div>
<div style="padding-left:53px">reasoning behind the classifications</div>
<div class="l" style="padding-left:53px">assigned to particular events.</div>
<div style="padding-left:33px"><span style="display:inline-block;width:20px">●</span>Allows us assign <i>importance</i> to</div>
<div class="l" style="padding-left:53px">regions in the input.</div>
<div style="padding-left:33px"><span style="display:inline-block;width:20px">●</span>Provides a method for analyzing</div>
<div class="l" style="padding-left:53px">incorrect reconstructions.</div>
</div>
<div class="blk" style="left:1703px;top:717px;width:399px;font-size:18.5px">
<div>Presented is an example heatmap for a <i>ν<sub>e</sub></i></div>
<div class="l">current event.</div>
<div style="margin-top:2px;padding-left:6px"><span style="display:inline-block;width:20px">●</span>Regions of the heatmap which are red</div>
<div style="padding-left:26px">are <b style="color:#c0301a">positively correlated</b> with the</div>
<div class="l" style="padding-left:26px">electron prong prediction</div>
<div style="padding-left:6px"><span style="display:inline-block;width:20px">●</span>Blue regions are <b style="color:#1a5aa6">negatively correlated</b></div>
<div class="l" style="padding-left:26px">with the electron label.</div>
</div>
<div class="blk" style="left:1703px;top:923px;width:399px;font-size:18.5px">
<div class="l">Heatmaps are generated by</div>
<div style="margin-top:2px"><span style="display:inline-block;width:26px;padding-left:4px">1.</span>Computing the gradient of the electron</div>
<div style="padding-left:26px">prong classification output <i>w.r.t</i> the input</div>
<div class="l" style="padding-left:26px">pixel map [4],</div>
<div><span style="display:inline-block;width:26px">2.</span>Weighting the gradient by the Class</div>
<div style="padding-left:26px">Activation Mapping (CAM) [5] from the</div>
<div class="l" style="padding-left:26px">DenseNet convolution layers</div>
<div><span style="display:inline-block;width:26px">3.</span>Weighting the gradient by the attention</div>
<div style="padding-left:26px">weights from the transformer encoder</div>
<div class="l" style="padding-left:26px">layers [6] to create full heatmap list.</div>
</div>

<div class="blk" style="left:1695px;top:1403px;width:777px;font-size:14.6px;line-height:20.5px">
<div class="l" style="height:20.5px"><b>[1]</b> D. S. Ayres et al. The NOvA Technical Design Report. 10 2007.</div>
<div style="height:20.5px"><b>[2]</b> A. Aurisano, <i>et al.</i> A convolutional neural network neutrino event classifier. JINST, volume 11,</div>
<div class="l" style="height:20.5px">P09001, 2016</div>
<div style="height:20.5px"><b>[3]</b> Gao Huang, Zhuang Liu, Laurens van der Maaten, and Kilian Q. Weinberger. Densely connected</div>
<div style="height:20.5px">convolutional networks. In Proceedings of the IEEE Conference on Computer Vision and Pattern</div>
<div class="l" style="height:20.5px">Recognition (CVPR), July 2017.</div>
<div style="height:20.5px"><b>[4]</b> Ramprasaath R. Selvaraju, Michael Cogswell, Abhishek Das, Ramakrishna Vedantam, Devi Parikh,</div>
<div style="height:20.5px">and Dhruv Batra. Grad-cam: Visual explanations from deep networks via gradient-based localization. In</div>
<div class="l" style="height:20.5px">2017 IEEE International Conference on Computer Vision (ICCV), pages 618–626, 2017.</div>
<div style="height:20.5px"><b>[5]</b> Karen Simonyan, Andrea Vedaldi, and Andrew Zisserman. Deep inside convolutional networks:</div>
<div style="height:20.5px">Visualising image classification models and saliency maps. In Workshop at International Conference on</div>
<div class="l" style="height:20.5px">Learning Representations, 2014.</div>
<div style="height:20.5px"><b>[6]</b> Ashish Vaswani, Noam Shazeer, Niki Parmar, Jakob Uszkoreit, Llion Jones, Aidan N Gomez, L ukasz</div>
<div style="height:20.5px">Kaiser, and Illia Polosukhin. Attention is all you need. In I. Guyon, U. Von Luxburg, S. Bengio, H. Wallach,</div>
<div style="height:20.5px">R. Fergus, S. Vishwanathan, and R. Garnett, editors, Advances in Neural Information Processing Systems,</div>
<div class="l" style="height:20.5px">volume 30. Curran Associates, Inc., 2017.</div>
</div>
</body></html>
